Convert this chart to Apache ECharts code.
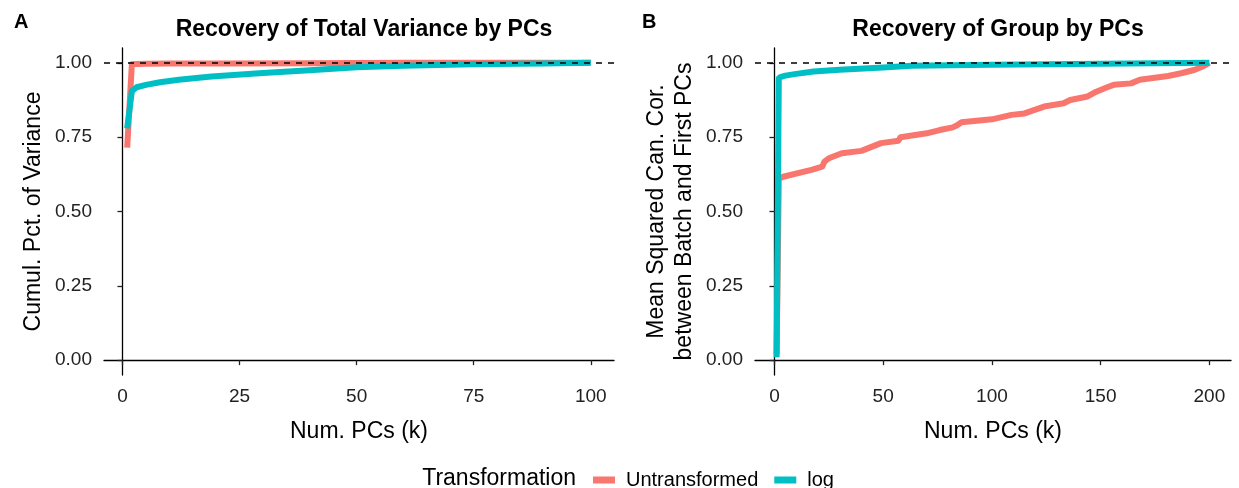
<!DOCTYPE html>
<html lang="en">
<head>
    <meta charset="UTF-8">
    <title>PC recovery</title>
    <script type="text/javascript" src="https://cdn.jsdelivr.net/npm/echarts@6/dist/echarts.min.js"></script>
    <style>
        html, body { margin: 0; padding: 0; background: #fff; }
        #chart { width: 1239px; height: 488px; }
    </style>
</head>
<body>
<div id="chart"></div>

<script type="text/javascript">
    // panel A: cumulative pct of variance
    var kVarUntr = [1, 2, 3, 5, 10, 20, 40, 60, 100];
    var varUntr  = [0.715, 0.995, 0.996, 0.997, 0.998, 0.998, 0.999, 1.0, 1.0];
    var kVarLog  = [1, 2, 3, 5, 8, 12, 19, 30, 40, 50, 60, 75, 90, 100];
    var varLog   = [0.78, 0.905, 0.918, 0.926, 0.935, 0.943, 0.954, 0.966, 0.975, 0.985, 0.99, 0.995, 0.998, 1.0];

    // panel B: mean squared canonical correlation
    var kGrpUntr = [1, 2, 4, 17, 22, 23, 25, 31, 40, 49, 57, 58, 70, 76, 82, 84, 86, 100, 109, 115, 124,
                    133, 136, 144, 148, 153, 156, 164, 168, 181, 187, 193, 197, 200];
    var grpUntr  = [0.02, 0.61, 0.617, 0.64, 0.651, 0.668, 0.679, 0.696, 0.704, 0.73, 0.738, 0.75, 0.763,
                    0.774, 0.783, 0.79, 0.80, 0.81, 0.825, 0.83, 0.853, 0.864, 0.875, 0.887, 0.903, 0.918,
                    0.926, 0.931, 0.943, 0.956, 0.965, 0.976, 0.988, 1.0];
    var kGrpLog  = [1, 2, 3, 5, 10, 18, 30, 50, 63, 100, 150, 200];
    var grpLog   = [0.01, 0.948, 0.953, 0.957, 0.963, 0.971, 0.977, 0.984, 0.99, 0.994, 0.997, 1.0];

    var xTicksA = [0, 25, 50, 75, 100];
    var xTicksB = [0, 50, 100, 150, 200];
    var yTicks  = [0, 0.25, 0.5, 0.75, 1];

    var RED = '#F8766D', TEAL = '#00BFC4';
    var FONT = 'Liberation Sans';

    function pairs(ks, vs) {
        return ks.map(function (k, i) { return [k, vs[i]]; });
    }

    function xAxisFor(idx, lo, hi, ticks) {
        return {
            type: 'value', gridIndex: idx, min: lo, max: hi,
            name: 'Num. PCs (k)', nameLocation: 'middle', nameGap: 45,
            nameTextStyle: { fontFamily: FONT, fontSize: 23, color: '#000' },
            axisLine: { lineStyle: { color: '#000', width: 1.3 } },
            axisTick: { customValues: ticks, length: 5, lineStyle: { color: '#222', width: 1.3 } },
            axisLabel: { customValues: ticks, margin: 12, fontFamily: FONT, fontSize: 19, color: '#222' },
            splitLine: { show: false }
        };
    }

    function yAxisFor(idx, name, gap) {
        return {
            type: 'value', gridIndex: idx, min: -0.05, max: 1.05,
            name: name, nameLocation: 'middle', nameGap: gap,
            nameTextStyle: { fontFamily: FONT, fontSize: 23, color: '#000', lineHeight: 28 },
            axisLine: { show: true, lineStyle: { color: '#000', width: 1.3 } },
            axisTick: { show: true, customValues: yTicks, length: 5, lineStyle: { color: '#222', width: 1.3 } },
            axisLabel: {
                customValues: yTicks, margin: 12, fontFamily: FONT, fontSize: 19, color: '#222',
                formatter: function (v) { return v.toFixed(2); }
            },
            splitLine: { show: false }
        };
    }

    function lineSeries(name, idx, data, color, withRef) {
        var s = {
            name: name, type: 'line', xAxisIndex: idx, yAxisIndex: idx,
            data: data, showSymbol: false, symbol: 'none', animation: false,
            itemStyle: { color: color },
            lineStyle: { color: color, width: 6, cap: 'butt', join: 'round' }
        };
        if (withRef) {
            s.markLine = {
                silent: true, symbol: 'none', label: { show: false },
                lineStyle: { color: '#000', width: 1.5, type: [6, 6] },
                data: [{ yAxis: 1 }]
            };
        }
        return s;
    }

    var myChart = echarts.init(document.getElementById('chart'));
    myChart.setOption({
        animation: false,
        textStyle: { fontFamily: FONT },
        title: [
            { text: 'A', left: 9, top: 7, textStyle: { fontFamily: FONT, fontSize: 20, fontWeight: 'bold', color: '#000' } },
            { text: 'B', left: 637, top: 7, textStyle: { fontFamily: FONT, fontSize: 20, fontWeight: 'bold', color: '#000' } },
            { text: 'Recovery of Total Variance by PCs', left: 359, top: 13, textAlign: 'center',
              textStyle: { fontFamily: FONT, fontSize: 23, fontWeight: 'bold', color: '#000' } },
            { text: 'Recovery of Group by PCs', left: 993, top: 13, textAlign: 'center',
              textStyle: { fontFamily: FONT, fontSize: 23, fontWeight: 'bold', color: '#000' } }
        ],
        grid: [
            { left: 104, top: 48, width: 510, height: 327 },
            { left: 755, top: 48, width: 476, height: 327 }
        ],
        xAxis: [
            xAxisFor(0, -3.95, 104.95, xTicksA),
            xAxisFor(1, -8.95, 209.95, xTicksB)
        ],
        yAxis: [
            yAxisFor(0, 'Cumul. Pct. of Variance', 56),
            yAxisFor(1, 'Mean Squared Can. Cor.\nbetween Batch and First PCs', 56)
        ],
        legend: {
            data: ['Untransformed', 'log'],
            left: 588, top: 465,
            icon: 'rect', itemWidth: 22, itemHeight: 7, itemGap: 16,
            textStyle: { fontFamily: FONT, fontSize: 20, color: '#000', padding: [0, 0, 0, 6] }
        },
        graphic: [
            { type: 'text', x: 576, y: 479,
              style: { text: 'Transformation', fontFamily: FONT, fontSize: 23, fill: '#000',
                       textAlign: 'right', textVerticalAlign: 'middle' } }
        ],
        series: [
            lineSeries('Untransformed', 0, pairs(kVarUntr, varUntr), RED, false),
            lineSeries('log', 0, pairs(kVarLog, varLog), TEAL, true),
            lineSeries('Untransformed', 1, pairs(kGrpUntr, grpUntr), RED, false),
            lineSeries('log', 1, pairs(kGrpLog, grpLog), TEAL, true)
        ]
    });
</script>

</body>
</html>
